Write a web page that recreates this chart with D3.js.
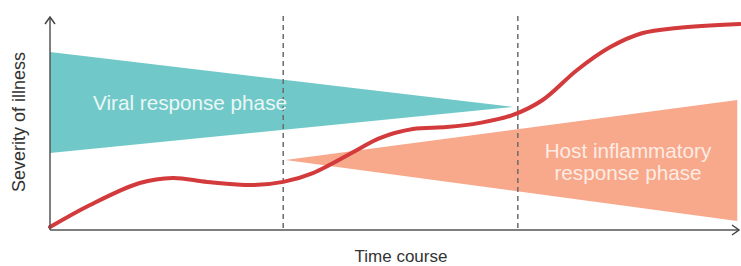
<!DOCTYPE html>
<html>
<head>
<meta charset="utf-8">
<script src="https://cdn.jsdelivr.net/npm/d3@7"></script>
<style>
  body { margin: 0; background: #fff; }
  svg { display: block; font-family: "Liberation Sans", Arial, sans-serif; }
</style>
</head>
<body>
<div id="chart"></div>
<script>
// time (0-100) and severity (0-100)
var severityTime = [0, 5.8, 13, 17.8, 22.8, 29.4, 33.8, 38.1, 44.5, 47.8, 52.6, 57.5, 62.3, 67.1, 71.4, 76.4, 81.2, 85.9, 90.9, 100]
var severityValue = [1.4, 11.9, 22.4, 24.8, 22.9, 21.4, 22.9, 27.1, 38.1, 43.8, 48.1, 49.0, 51.0, 54.8, 61.9, 76.2, 87.1, 93.8, 96.2, 98.1]

// phase wedges: [time, severity]
var viralPhase = [[0, 84.8], [67.1, 58.6], [0, 36.7]]
var hostPhase = [[34.1, 33.3], [99.6, 61.9], [99.6, 4.3]]

var phaseBreaks = [33.8, 67.8]

var width = 741, height = 266
var margin = { top: 17, right: 1, bottom: 36, left: 50 }

var svg = d3.select("#chart")
    .append("svg")
    .attr("width", width)
    .attr("height", height)

var x = d3.scaleLinear()
    .domain([0, 100])
    .range([margin.left, width - margin.right])

var y = d3.scaleLinear()
    .domain([0, 100])
    .range([230, 20])

var poly = d3.line()
    .x(function (d) { return x(d[0]); })
    .y(function (d) { return y(d[1]); })

// wedges
svg.append("path")
    .attr("d", poly(viralPhase) + "Z")
    .attr("fill", "#70c9c8")

svg.append("path")
    .attr("d", poly(hostPhase) + "Z")
    .attr("fill", "#f8a88b")

// dashed phase boundaries
svg.selectAll(".phaseBreak")
    .data(phaseBreaks)
    .enter()
    .append("line")
    .attr("class", "phaseBreak")
    .attr("x1", function (d) { return x(d); })
    .attr("x2", function (d) { return x(d); })
    .attr("y1", 16)
    .attr("y2", 230)
    .attr("stroke", "#6b6b6b")
    .attr("stroke-width", 1.5)
    .attr("stroke-dasharray", "5,4")

// severity curve
var curvePts = severityTime.map(function (t, i) { return [t, severityValue[i]]; })
svg.append("path")
    .attr("d", poly.curve(d3.curveCatmullRom.alpha(0.5))(curvePts))
    .attr("fill", "none")
    .attr("stroke", "#d23a3c")
    .attr("stroke-width", 4)
    .attr("stroke-linecap", "round")

// axes with arrow heads
svg.append("line")
    .attr("x1", x(0)).attr("x2", x(0))
    .attr("y1", 230).attr("y2", 17)
    .attr("stroke", "#555").attr("stroke-width", 1.5)
svg.append("path")
    .attr("d", "M" + (x(0) - 5) + ",24L" + x(0) + ",17L" + (x(0) + 5) + ",24")
    .attr("fill", "none").attr("stroke", "#444").attr("stroke-width", 1.5)

svg.append("line")
    .attr("x1", x(0)).attr("x2", width - 2)
    .attr("y1", 230).attr("y2", 230)
    .attr("stroke", "#555").attr("stroke-width", 1.5)
svg.append("path")
    .attr("d", "M" + (width - 9) + ",225L" + (width - 2) + ",230L" + (width - 9) + ",235")
    .attr("fill", "none").attr("stroke", "#444").attr("stroke-width", 1.5)

// labels
svg.append("text")
    .attr("transform", "translate(25,122) rotate(-90)")
    .attr("text-anchor", "middle")
    .attr("font-size", 18)
    .attr("fill", "#333")
    .text("Severity of illness")

svg.append("text")
    .attr("x", 401).attr("y", 262)
    .attr("text-anchor", "middle")
    .attr("font-size", 17)
    .attr("fill", "#333")
    .text("Time course")

svg.append("text")
    .attr("x", 190).attr("y", 110)
    .attr("text-anchor", "middle")
    .attr("font-size", 20.7)
    .attr("fill", "#eaf7f6")
    .text("Viral response phase")

svg.append("text")
    .attr("x", 628).attr("y", 158)
    .attr("text-anchor", "middle")
    .attr("font-size", 20.7)
    .attr("fill", "#fdece4")
    .text("Host inflammatory")

svg.append("text")
    .attr("x", 628).attr("y", 180)
    .attr("text-anchor", "middle")
    .attr("font-size", 20.7)
    .attr("fill", "#fdece4")
    .text("response phase")
</script>
</body>
</html>
